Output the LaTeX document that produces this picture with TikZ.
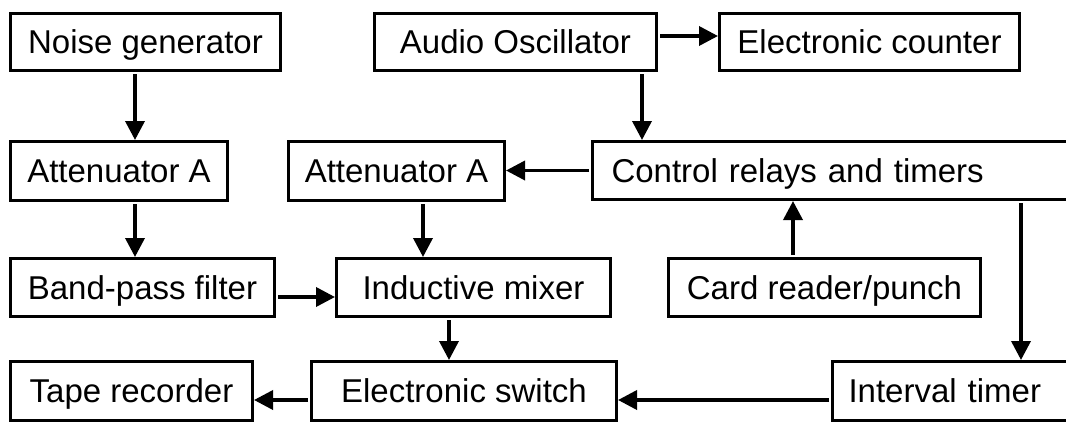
\documentclass[tikz,border=0pt]{standalone}
\usepackage{fontspec}
\setmainfont{Liberation Sans}
\usetikzlibrary{arrows.meta}
\begin{document}
\begin{tikzpicture}[x=1pt,y=-1pt,
  blk/.style={draw=black, line width=3pt, rectangle, inner xsep=0pt, inner ysep=0pt,
    font=\fontsize{33}{40}\selectfont, text height=23.6pt, text depth=0pt},
  arr/.style={line width=3.6pt, -{Triangle[length=19pt,width=19pt]}, shorten <=2pt}]
\useasboundingbox (0,0) rectangle (1066,421);
\clip (0,0) rectangle (1066,421);

% blocks
\node[blk, minimum width=270pt, minimum height=57pt] (noise) at (145.5,42) {Noise generator};
\node[blk, minimum width=282pt, minimum height=57pt] (ao)    at (515.5,42) {Audio Oscillator};
\node[blk, minimum width=300pt, minimum height=57pt] (ec)    at (869.5,42) {Electronic counter};
\node[blk, minimum width=217pt, minimum height=59pt] (attL)  at (119,171) {Attenuator A};
\node[blk, minimum width=216pt, minimum height=59pt] (attM)  at (396.5,171) {Attenuator A};
\node[blk, minimum height=58pt, text width=488pt, align=left,
      inner xsep=19pt] (ctrl) at (855.5,170.5) {Control relays and timers};
\node[blk, minimum width=264pt, minimum height=58pt] (bpf)   at (142.5,287.5) {Band-pass filter};
\node[blk, minimum width=274pt, minimum height=58pt] (im)    at (473.5,287.5) {Inductive mixer};
\node[blk, minimum width=312pt, minimum height=58pt] (card)  at (824.5,287.5) {Card reader/punch};
\node[blk, minimum width=242pt, minimum height=59pt] (tape)  at (131.5,391) {Tape recorder};
\node[blk, minimum width=305pt, minimum height=59pt] (es)    at (464,391) {Electronic switch};
\node[blk, minimum height=59pt, text width=254pt, align=left,
      inner xsep=16pt] (it) at (975.5,391) {Interval timer};

% connector start points
\coordinate (c1)  at ([xshift=-10.5pt]noise.south);
\coordinate (c2)  at ([xshift=126.5pt]ao.south);
\coordinate (c3)  at ([yshift=6pt]ao.east);
\coordinate (c5)  at ([xshift=16pt]attL.south);
\coordinate (c6)  at ([xshift=26.5pt]attM.south);
\coordinate (c7)  at ([yshift=-9.5pt]bpf.east);
\coordinate (c8)  at ([xshift=-31.5pt]card.north);
\coordinate (c9)  at ([xshift=165.5pt]ctrl.south);
\coordinate (c10) at ([xshift=-24.5pt]im.south);
\coordinate (c11) at ([yshift=-9pt]es.west);
\coordinate (c12) at ([yshift=-9pt]it.west);

% connectors
\draw[arr] (c1) -- (c1 |- attL.north);
\draw[arr] (c2) -- (c2 |- ctrl.north);
\draw[arr] (c3) -- (c3 -| ec.west);
\draw[arr] (ctrl.west) -- (ctrl.west -| attM.east);
\draw[arr] (c5) -- (c5 |- bpf.north);
\draw[arr] (c6) -- (c6 |- im.north);
\draw[arr] (c7) -- (c7 -| im.west);
\draw[arr] (c8) -- (c8 |- ctrl.south);
\draw[arr] (c9) -- (c9 |- it.north);
\draw[arr] (c10) -- (c10 |- es.north);
\draw[arr] (c11) -- (c11 -| tape.east);
\draw[arr] (c12) -- (c12 -| es.east);
\end{tikzpicture}
\end{document}
